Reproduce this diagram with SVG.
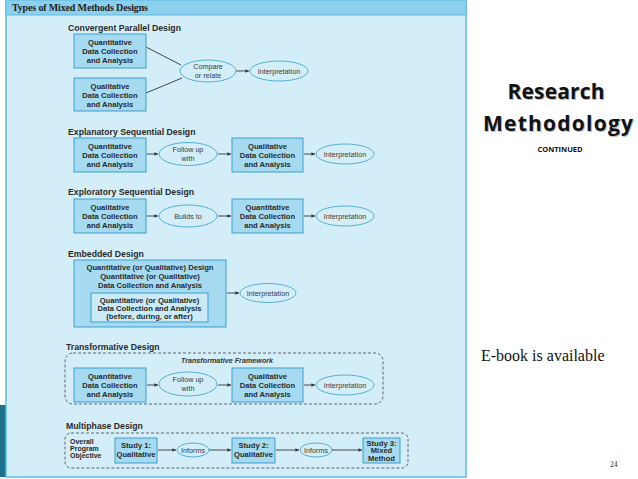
<svg xmlns="http://www.w3.org/2000/svg" width="638" height="479" viewBox="0 0 638 479">
<defs>
<marker id="ah" viewBox="0 0 6 6" refX="6" refY="3" markerWidth="4" markerHeight="4" orient="auto"><path d="M0,0 L6,3 L0,6 z" fill="#333"/></marker>
</defs>
<style>
.box{fill:#a6daf1;stroke:#3c9fca;stroke-width:1}
.ell{fill:#d3eef9;stroke:#54b0d6;stroke-width:1}
.dash{fill:none;stroke:#444;stroke-width:0.8;stroke-dasharray:3,2}
.bt{font-family:"Liberation Sans",Arial,sans-serif;font-size:7.6px;font-weight:bold;fill:#2a2a2a;text-anchor:middle}
.lt{font-family:"Liberation Sans",Arial,sans-serif;font-size:7px;font-weight:bold;fill:#2a2a2a}
.et{font-family:"Liberation Sans",Arial,sans-serif;font-size:7.2px;fill:#3a3a3a;text-anchor:middle}
.ttl{font-family:"Liberation Sans",Arial,sans-serif;font-size:8.7px;font-weight:bold;fill:#2a2a2a}
.con{stroke:#333;stroke-width:0.9;fill:none}
.arr{stroke:#333;stroke-width:0.9;fill:none;marker-end:url(#ah)}
</style>
<rect width="638" height="479" fill="#ffffff"/>
<rect x="0" y="405" width="6" height="72" fill="#1d6f8c"/>
<rect x="6" y="0" width="460" height="477" fill="#d3eef9" stroke="#5bbde0" stroke-width="1.5"/>
<rect x="6" y="0" width="460" height="15" fill="#8dcfee" stroke="#5bbde0" stroke-width="1"/>
<text x="12" y="10.5" font-family="Liberation Serif,serif" font-size="10" font-weight="bold" fill="#222" textLength="136">Types of Mixed Methods Designs</text>

<g id="titles">
<text class="ttl" x="68" y="31">Convergent Parallel Design</text>
<text class="ttl" x="68" y="135">Explanatory Sequential Design</text>
<text class="ttl" x="68" y="195">Exploratory Sequential Design</text>
<text class="ttl" x="68" y="257">Embedded Design</text>
<text class="ttl" x="66" y="350">Transformative Design</text>
<text class="ttl" x="66" y="429">Multiphase Design</text>
</g>

<g id="connectors">
<line class="con" x1="146" y1="47" x2="181" y2="65"/>
<line class="con" x1="146" y1="93" x2="182" y2="78"/>
<line class="arr" x1="236" y1="71" x2="249" y2="71"/>
<line class="arr" x1="147" y1="154" x2="158" y2="154"/>
<line class="arr" x1="218" y1="154" x2="231" y2="154"/>
<line class="arr" x1="304" y1="154" x2="315" y2="154"/>
<line class="arr" x1="147" y1="216" x2="158" y2="216"/>
<line class="arr" x1="218" y1="216" x2="231" y2="216"/>
<line class="arr" x1="304" y1="216" x2="315" y2="216"/>
<line class="arr" x1="227" y1="293" x2="239" y2="293"/>
<line class="arr" x1="147" y1="385" x2="158" y2="385"/>
<line class="arr" x1="218" y1="385" x2="231" y2="385"/>
<line class="arr" x1="304" y1="385" x2="315" y2="385"/>
<line class="arr" x1="158" y1="450" x2="176" y2="450"/>
<line class="arr" x1="209" y1="450" x2="231" y2="450"/>
<line class="arr" x1="276" y1="450" x2="299" y2="450"/>
<line class="arr" x1="332" y1="450" x2="362" y2="450"/>
</g>

<g id="conv-quant"><rect class="box" x="74" y="34" width="72" height="34"/>
<text class="bt" x="110" y="45">Quantitative</text><text class="bt" x="110" y="54">Data Collection</text><text class="bt" x="110" y="63">and Analysis</text></g>
<g id="conv-qual"><rect class="box" x="74" y="78" width="72" height="33"/>
<text class="bt" x="110" y="88.5">Qualitative</text><text class="bt" x="110" y="97.5">Data Collection</text><text class="bt" x="110" y="106.5">and Analysis</text></g>
<g id="conv-compare"><ellipse class="ell" cx="208" cy="71" rx="28" ry="11"/>
<text class="et" x="208" y="69">Compare</text><text class="et" x="208" y="78">or relate</text></g>
<g id="conv-interp"><ellipse class="ell" cx="279" cy="71" rx="29" ry="10"/>
<text class="et" x="279" y="73.5">Interpretation</text></g>

<g id="expl-quant"><rect class="box" x="74" y="138" width="72" height="34"/>
<text class="bt" x="110" y="149">Quantitative</text><text class="bt" x="110" y="158">Data Collection</text><text class="bt" x="110" y="167">and Analysis</text></g>
<g id="expl-follow"><ellipse class="ell" cx="188" cy="154" rx="29" ry="11.5"/>
<text class="et" x="188" y="152">Follow up</text><text class="et" x="188" y="161">with</text></g>
<g id="expl-qual"><rect class="box" x="232" y="138" width="71" height="34"/>
<text class="bt" x="267.5" y="149">Qualitative</text><text class="bt" x="267.5" y="158">Data Collection</text><text class="bt" x="267.5" y="167">and Analysis</text></g>
<g id="expl-interp"><ellipse class="ell" cx="345" cy="154" rx="29" ry="10"/>
<text class="et" x="345" y="156.5">Interpretation</text></g>

<g id="expo-qual"><rect class="box" x="74" y="199" width="72" height="34"/>
<text class="bt" x="110" y="210">Qualitative</text><text class="bt" x="110" y="219">Data Collection</text><text class="bt" x="110" y="228">and Analysis</text></g>
<g id="expo-builds"><ellipse class="ell" cx="188" cy="216" rx="29" ry="11"/>
<text class="et" x="188" y="218.5">Builds to</text></g>
<g id="expo-quant"><rect class="box" x="232" y="199" width="71" height="34"/>
<text class="bt" x="267.5" y="210">Quantitative</text><text class="bt" x="267.5" y="219">Data Collection</text><text class="bt" x="267.5" y="228">and Analysis</text></g>
<g id="expo-interp"><ellipse class="ell" cx="345" cy="216" rx="29" ry="10"/>
<text class="et" x="345" y="218.5">Interpretation</text></g>

<g id="emb-outer"><rect class="box" x="74" y="260" width="152" height="67"/>
<text class="bt" x="150" y="270">Quantitative (or Qualitative) Design</text>
<text class="bt" x="150" y="279">Quantitative (or Qualitative)</text>
<text class="bt" x="150" y="287.5">Data Collection and Analysis</text></g>
<g id="emb-inner"><rect x="91" y="293" width="117" height="29" fill="#cbeaf8" stroke="#3c9fca" stroke-width="1"/>
<text class="bt" x="149.5" y="303">Quantitative (or Qualitative)</text>
<text class="bt" x="149.5" y="310.5">Data Collection and Analysis</text>
<text class="bt" x="149.5" y="318.5">(before, during, or after)</text></g>
<g id="emb-interp"><ellipse class="ell" cx="268" cy="293" rx="28" ry="9.5"/>
<text class="et" x="268" y="295.5">Interpretation</text></g>

<g id="trans-frame"><rect class="dash" x="65" y="353" width="318" height="51" rx="8"/>
<text x="227" y="363" font-family="Liberation Sans,Arial,sans-serif" font-size="7.2" font-style="italic" font-weight="bold" fill="#333" text-anchor="middle">Transformative Framework</text></g>
<g id="trans-quant"><rect class="box" x="74" y="368" width="72" height="34"/>
<text class="bt" x="110" y="379">Quantitative</text><text class="bt" x="110" y="388">Data Collection</text><text class="bt" x="110" y="397">and Analysis</text></g>
<g id="trans-follow"><ellipse class="ell" cx="188" cy="384" rx="29" ry="12"/>
<text class="et" x="188" y="382">Follow up</text><text class="et" x="188" y="391">with</text></g>
<g id="trans-qual"><rect class="box" x="232" y="368" width="71" height="34"/>
<text class="bt" x="267.5" y="379">Qualitative</text><text class="bt" x="267.5" y="388">Data Collection</text><text class="bt" x="267.5" y="397">and Analysis</text></g>
<g id="trans-interp"><ellipse class="ell" cx="345" cy="385" rx="29" ry="10"/>
<text class="et" x="345" y="387.5">Interpretation</text></g>

<g id="multi-frame"><rect class="dash" x="65" y="433" width="343" height="35" rx="6"/>
<text class="lt" x="70" y="443.5">Overall</text>
<text class="lt" x="70" y="450.5">Program</text>
<text class="lt" x="70" y="458">Objective</text></g>
<g id="study1"><rect class="box" x="115" y="438" width="42" height="25"/>
<text class="bt" x="136" y="448">Study 1:</text><text class="bt" x="136" y="457">Qualitative</text></g>
<g id="informs1"><ellipse class="ell" cx="193" cy="450" rx="16" ry="7"/>
<text class="et" x="193" y="452.5">Informs</text></g>
<g id="study2"><rect class="box" x="232" y="438" width="43" height="25"/>
<text class="bt" x="253.5" y="448">Study 2:</text><text class="bt" x="253.5" y="457">Qualitative</text></g>
<g id="informs2"><ellipse class="ell" cx="316" cy="450" rx="16" ry="7"/>
<text class="et" x="316" y="452.5">Informs</text></g>
<g id="study3"><rect class="box" x="363" y="438" width="37" height="25"/>
<text class="bt" x="381.5" y="445.5">Study 3:</text><text class="bt" x="381.5" y="453">Mixed</text><text class="bt" x="381.5" y="460.5">Method</text></g>

<g id="side">
<text x="556" y="99" font-family="Open Sans,Liberation Sans,sans-serif" font-size="21" font-weight="bold" fill="#bbb" text-anchor="middle" textLength="97" transform="translate(1,1)">Research</text>
<text x="556" y="99" font-family="Open Sans,Liberation Sans,sans-serif" font-size="21" font-weight="bold" fill="#111" text-anchor="middle" textLength="97">Research</text>
<text x="558" y="131" font-family="Open Sans,Liberation Sans,sans-serif" font-size="21" font-weight="bold" fill="#bbb" text-anchor="middle" textLength="150" transform="translate(1,1)">Methodology</text>
<text x="558" y="131" font-family="Open Sans,Liberation Sans,sans-serif" font-size="21" font-weight="bold" fill="#111" text-anchor="middle" textLength="150">Methodology</text>
<text x="560" y="152" font-family="Open Sans,Liberation Sans,sans-serif" font-size="7.5" font-weight="bold" fill="#111" text-anchor="middle">CONTINUED</text>
<text x="481" y="361" font-family="Liberation Serif,serif" font-size="16" fill="#111">E-book is available</text>
<text x="610" y="467" font-family="Liberation Serif,serif" font-size="7.5" fill="#333">24</text>
</g>
</svg>
